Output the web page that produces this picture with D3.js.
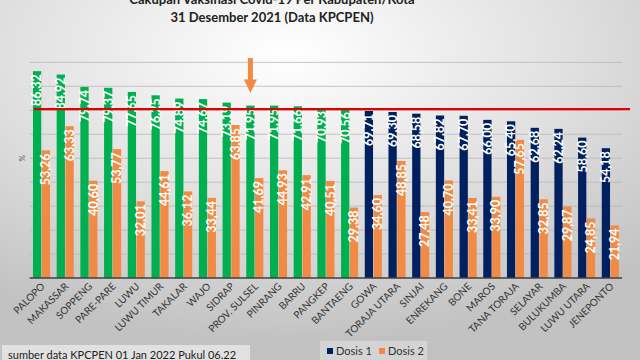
<!DOCTYPE html>
<html><head><meta charset="utf-8">
<script src="https://cdn.jsdelivr.net/npm/d3@7"></script>
<style>html,body{margin:0;padding:0;overflow:hidden;background:#fff}</style>
</head><body><svg id="c" width="640" height="360"></svg>
<script>
const categories = ["PALOPO","MAKASSAR","SOPPENG","PARE-PARE","LUWU","LUWU TIMUR","TAKALAR","WAJO","SIDRAP","PROV. SULSEL","PINRANG","BARRU","PANGKEP","BANTAENG","GOWA","TORAJA UTARA","SINJAI","ENREKANG","BONE","MAROS","TANA TORAJA","SELAYAR","BULUKUMBA","LUWU UTARA","JENEPONTO"];
const dosis1 = [86.32,84.92,79.74,79.37,77.65,76.25,74.89,74.67,73.19,71.95,71.95,71.66,70.93,70.56,69.71,69.30,68.58,67.82,67.70,66.00,65.40,62.68,62.24,58.60,54.18];
const dosis2 = [53.26,63.33,40.60,53.77,32.01,44.61,36.12,33.44,63.85,41.69,44.93,42.91,40.51,29.38,34.60,48.85,27.48,40.70,33.41,33.90,57.65,32.85,29.87,24.85,21.94];
const seriesNames = ["Dosis 1","Dosis 2"];
const targetLine = 70.5;
const threshold = 70;
const highlighted = "PROV. SULSEL";
const titleLines = ["Cakupan Vaksinasi Covid-19 Per Kabupaten/Kota","31 Desember 2021 (Data KPCPEN)"];
const source = "sumber data KPCPEN 01 Jan 2022 Pukul 06.22";
const gridTicks = [10,20,30,40,50,60,70,80,90];

const W=640,H=360;
const svg=d3.select("#c");
const defs=svg.append("defs");
const rg=defs.append("radialGradient").attr("id","bg").attr("cx","45%").attr("cy","15%").attr("r","80%");
rg.append("stop").attr("offset","0%").attr("stop-color","#ffffff");
rg.append("stop").attr("offset","55%").attr("stop-color","#e0e0e0");
rg.append("stop").attr("offset","100%").attr("stop-color","#c2c2c2");
svg.append("rect").attr("width",W).attr("height",H).attr("fill","url(#bg)");

const GREEN="#00b050", NAVY="#002060", ORANGE="#f08a44";
const y=d3.scaleLinear().domain([0,100]).range([278,38.4]);
const x=d3.scaleBand().domain(categories).range([29.65,622.15]).paddingInner(0.28).paddingOuter(0.14);
const xs=d3.scaleBand().domain(seriesNames).range([0,x.bandwidth()]).paddingInner(0.06);
const bw=xs.bandwidth();

svg.append("g").selectAll("line").data(gridTicks).join("line")
  .attr("x1",29.65).attr("x2",622.15).attr("y1",d=>y(d)).attr("y2",d=>y(d))
  .attr("stroke","#b8b8b8").attr("stroke-width",0.8);

svg.append("text").attr("transform",`translate(25,${y(50)}) rotate(-90)`)
  .attr("text-anchor","middle").attr("font-family","Lato, sans-serif").attr("font-size",8).attr("fill","#555").text("%");

const rows=categories.map((c,i)=>({c,v1:dosis1[i],v2:dosis2[i]}));
const g=svg.append("g");
const grp=g.selectAll("g").data(rows).join("g").attr("transform",d=>`translate(${x(d.c)},0)`);
grp.append("rect").attr("x",xs("Dosis 1")).attr("width",bw).attr("y",d=>y(d.v1)).attr("height",d=>y(0)-y(d.v1))
  .attr("fill",d=>d.v1>=threshold?GREEN:NAVY);
grp.append("rect").attr("x",xs("Dosis 2")).attr("width",bw).attr("y",d=>y(d.v2)).attr("height",d=>y(0)-y(d.v2))
  .attr("fill",ORANGE);

const fmt=v=>v.toFixed(2).replace(".",",");
function lab(sel,key,ser){
  sel.append("text")
    .attr("transform",d=>`translate(${xs(ser)+bw/2+4.3},${y(d[key])+3}) rotate(-90)`)
    .attr("text-anchor","end").attr("font-family","Lato, sans-serif").attr("font-weight","bold")
    .attr("font-size",12.5).attr("fill","#fff").text(d=>fmt(d[key]));
}
lab(grp,"v1","Dosis 1");
lab(grp,"v2","Dosis 2");

svg.append("line").attr("x1",34).attr("x2",630).attr("y1",y(targetLine)).attr("y2",y(targetLine))
  .attr("stroke","#e00000").attr("stroke-width",2.2);

svg.append("line").attr("x1",29.65).attr("x2",622.15).attr("y1",y(0)).attr("y2",y(0))
  .attr("stroke","#404040").attr("stroke-width",1.5);

svg.append("g").selectAll("text").data(categories).join("text")
  .attr("transform",d=>`translate(${x(d)+x.bandwidth()/2+4},${y(0)+9}) rotate(-45)`)
  .attr("text-anchor","end").attr("font-family","Lato, sans-serif").attr("font-size",10).attr("fill","#333").text(d=>d);

const ax=x(highlighted)+xs("Dosis 1")+bw/2;
const ar=svg.append("g").attr("fill",ORANGE);
ar.append("rect").attr("x",ax-2.5).attr("y",y(91.8)).attr("width",5).attr("height",y(82.5)-y(91.8));
ar.append("path").attr("d",`M${ax-6.5},${y(82.8)} L${ax+6.5},${y(82.8)} L${ax},${y(77.2)} Z`);

const t=svg.append("text").attr("text-anchor","middle").attr("font-family","Lato, sans-serif").attr("font-weight","bold").attr("font-size",13).attr("fill","#222");
t.append("tspan").attr("x",272).attr("y",3.5).text(titleLines[0]);
t.append("tspan").attr("x",272).attr("y",21.5).text(titleLines[1]);

svg.append("rect").attr("x",320).attr("y",341).attr("width",107).attr("height",20).attr("fill","#ffffff").attr("opacity",0.3);
const lg=svg.append("g").attr("font-family","Lato, sans-serif").attr("font-size",11).attr("fill","#333");
[[NAVY,327,seriesNames[0]],[ORANGE,379,seriesNames[1]]].forEach(([c,lx,n])=>{
  lg.append("rect").attr("x",lx).attr("y",348).attr("width",6).attr("height",6).attr("fill",c);
  lg.append("text").attr("x",lx+9).attr("y",355).text(n);
});

svg.append("rect").attr("x",2).attr("y",345).attr("width",248).attr("height",16).attr("fill","#eeeeee").attr("opacity",0.7);
svg.append("text").attr("x",8).attr("y",359).attr("font-family","Lato, sans-serif").attr("font-size",11).attr("fill","#222").text(source);
</script></body></html>
